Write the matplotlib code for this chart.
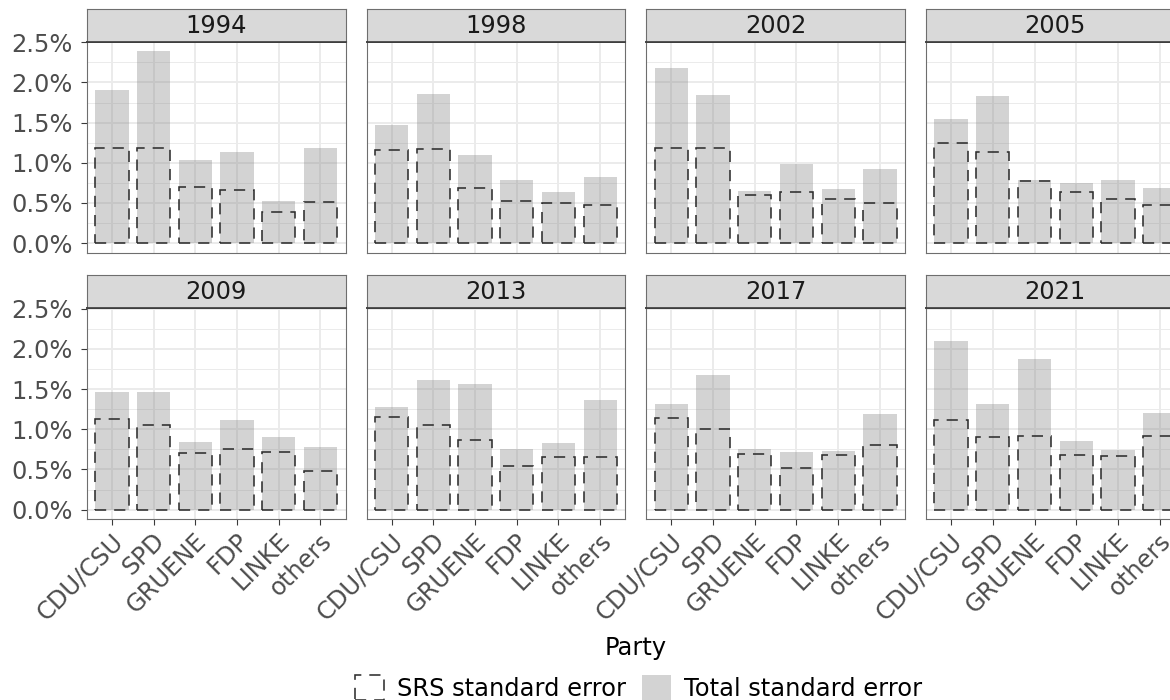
import matplotlib
matplotlib.use('Agg')
import matplotlib.pyplot as plt
from matplotlib.patches import Patch
from matplotlib.transforms import ScaledTranslation
import numpy as np

# standard errors in percent
parties = ['CDU/CSU', 'SPD', 'GRUENE', 'FDP', 'LINKE', 'others']
years = ['1994', '1998', '2002', '2005', '2009', '2013', '2017', '2021']

total_1994 = [1.90, 2.39, 1.04, 1.14, 0.52, 1.18]
srs_1994 = [1.19, 1.19, 0.70, 0.66, 0.39, 0.51]
total_1998 = [1.47, 1.86, 1.10, 0.78, 0.63, 0.82]
srs_1998 = [1.16, 1.17, 0.68, 0.53, 0.50, 0.48]
total_2002 = [2.18, 1.84, 0.65, 0.98, 0.67, 0.92]
srs_2002 = [1.18, 1.18, 0.60, 0.64, 0.55, 0.50]
total_2005 = [1.54, 1.83, 0.78, 0.75, 0.78, 0.68]
srs_2005 = [1.25, 1.14, 0.77, 0.63, 0.55, 0.48]
total_2009 = [1.46, 1.47, 0.84, 1.12, 0.90, 0.78]
srs_2009 = [1.13, 1.05, 0.71, 0.75, 0.72, 0.48]
total_2013 = [1.28, 1.61, 1.56, 0.76, 0.83, 1.36]
srs_2013 = [1.15, 1.05, 0.87, 0.54, 0.66, 0.66]
total_2017 = [1.32, 1.68, 0.76, 0.72, 0.73, 1.19]
srs_2017 = [1.14, 1.00, 0.69, 0.52, 0.68, 0.80]
total_2021 = [2.10, 1.31, 1.88, 0.86, 0.74, 1.20]
srs_2021 = [1.11, 0.90, 0.92, 0.68, 0.67, 0.92]

y_ticks = [0.0, 0.5, 1.0, 1.5, 2.0, 2.5]
y_labels = ['0.0%', '0.5%', '1.0%', '1.5%', '2.0%', '2.5%']

total = {'1994': total_1994, '1998': total_1998, '2002': total_2002, '2005': total_2005,
         '2009': total_2009, '2013': total_2013, '2017': total_2017, '2021': total_2021}
srs = {'1994': srs_1994, '1998': srs_1998, '2002': srs_2002, '2005': srs_2005,
       '2009': srs_2009, '2013': srs_2013, '2017': srs_2017, '2021': srs_2021}

plt.rcParams['font.family'] = 'DejaVu Sans'
FS = 17.4
W, H = 1170, 700
fig = plt.figure(figsize=(W / 100, H / 100), dpi=100)

def px_axes(left, top, width, height):
	return fig.add_axes([left / W, 1 - (top + height) / H, width / W, height / H])

# layout in pixels (right column runs past the edge like in the reference)
col_left = [87 + i * 279.7 for i in range(4)]
panel_w = 258.5
row_top = [41.5, 308.0]
panel_h = 211.2
strip_h = 33

ymax = max(max(v) for v in total.values())
ylim = (-0.05 * ymax, 1.05 * ymax)
x = np.arange(1, len(parties) + 1)
border = '#6E6E6E'
dark = '#3A3A3A'
dash = (0, (7, 5))

for k, yr in enumerate(years):
	r, c = divmod(k, 4)
	ax = px_axes(col_left[c], row_top[r], panel_w, panel_h)
	ax.bar(x, total[yr], width=0.8, color='#808080', alpha=0.34, linewidth=0, zorder=2)
	ax.bar(x, srs[yr], width=0.8, fill=False, edgecolor='#2E2E2E', linestyle=dash, linewidth=1.15, zorder=3)
	ax.set_xlim(0.4, len(parties) + 0.6)
	ax.set_ylim(*ylim)
	ax.set_axisbelow(True)
	ax.set_xticks(x)
	ax.set_yticks(y_ticks)
	ax.set_yticks(np.arange(0.25, 2.5, 0.5), minor=True)
	ax.grid(which='major', color='#EBEBEB', linewidth=1.4)
	ax.grid(which='minor', axis='y', color='#EBEBEB', linewidth=0.7)
	for s in ax.spines.values():
		s.set_color(border)
		s.set_linewidth(0.8)
	ax.spines['top'].set_color(dark)
	ax.spines['top'].set_linewidth(1.2)
	ax.tick_params(which='minor', length=0)
	ax.tick_params(which='major', length=4.3, width=0.8, color=dark, labelsize=FS, labelcolor='#4D4D4D')
	if c == 0:
		ax.set_yticklabels(y_labels)
		ax.tick_params(axis='y', pad=6)
	else:
		ax.tick_params(axis='y', length=0, labelleft=False)
	if r == 1:
		ax.set_xticklabels(parties, rotation=45, ha='right', va='top', rotation_mode='anchor')
		ax.tick_params(axis='x', pad=2.5)
		for lab in ax.get_xticklabels():
			lab.set_transform(lab.get_transform() + ScaledTranslation(-1 / 100, 0, fig.dpi_scale_trans))
	else:
		ax.tick_params(axis='x', length=0, labelbottom=False)

	# facet strip
	sax = px_axes(col_left[c], row_top[r] - strip_h, panel_w, strip_h)
	sax.set_facecolor('#D9D9D9')
	sax.set_xticks([])
	sax.set_yticks([])
	for s in sax.spines.values():
		s.set_color(border)
		s.set_linewidth(0.8)
	sax.spines['bottom'].set_color(dark)
	sax.spines['bottom'].set_linewidth(1.2)
	sax.text(0.5, 0.47, yr, ha='center', va='center', fontsize=FS, color='#1A1A1A', transform=sax.transAxes)

fig.text(636 / W, 1 - 655 / H, 'Party', ha='center', va='baseline', fontsize=FS)

handles = [Patch(facecolor='none', edgecolor='#2E2E2E', linestyle=dash, linewidth=1.15),
           Patch(facecolor='#808080', alpha=0.34, linewidth=0)]
fig.legend(handles, ['SRS standard error', 'Total standard error'], loc='center',
           bbox_to_anchor=(638.5 / W, 1 - 688 / H), ncol=2, frameon=False, fontsize=FS,
           handlelength=1.2, handleheight=1.2, handletextpad=0.54, columnspacing=0.66)

fig.savefig('out.png', dpi=100)
